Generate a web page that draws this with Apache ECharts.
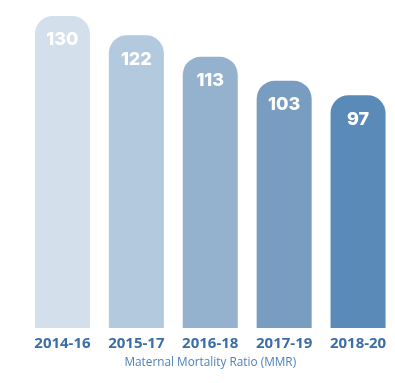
<!DOCTYPE html>
<html>
<head>
<meta charset="utf-8">
<script src="https://cdn.jsdelivr.net/npm/echarts@6/dist/echarts.min.js"></script>
<style>html,body{margin:0;padding:0;background:#fff;}#c{width:395px;height:383px;}</style>
</head>
<body>
<div id="c"></div>
<script>
const categories = ['2014-16', '2015-17', '2016-18', '2017-19', '2018-20'];
const mmrValues = [130, 122, 113, 103, 97];
const barColors = ['#d3dfeb', '#b3c9de', '#94b2ce', '#789dc0', '#5a8ab7'];
const axisTitle = 'Maternal Mortality Ratio (MMR)';

const chart = echarts.init(document.getElementById('c'), null, {renderer: 'canvas'});
chart.setOption({
  animation: false,
  grid: {left: 25.5, right: -0.5, top: 16, bottom: 55, containLabel: false},
  xAxis: {
    type: 'category',
    data: categories,
    axisLine: {show: false},
    axisTick: {show: false},
    axisLabel: {
      margin: 8,
      fontFamily: 'Open Sans',
      fontWeight: 'bold',
      fontSize: 15,
      color: '#3b6ea6'
    },
    name: axisTitle,
    nameLocation: 'middle',
    nameGap: 29,
    nameTextStyle: {
      fontFamily: 'Open Sans',
      fontSize: 11.8,
      color: '#4d82b9'
    }
  },
  yAxis: {
    type: 'value',
    min: 0,
    max: 130,
    show: false
  },
  series: [{
    type: 'bar',
    barWidth: 55,
    data: mmrValues.map((v, i) => ({value: v, itemStyle: {color: barColors[i]}})),
    itemStyle: {borderRadius: [18, 18, 0, 0]},
    label: {
      show: true,
      position: 'insideTop',
      distance: 15,
      color: '#ffffff',
      fontFamily: 'Inter',
      fontWeight: 800,
      fontSize: 18
    }
  }]
});
</script>
</body>
</html>
